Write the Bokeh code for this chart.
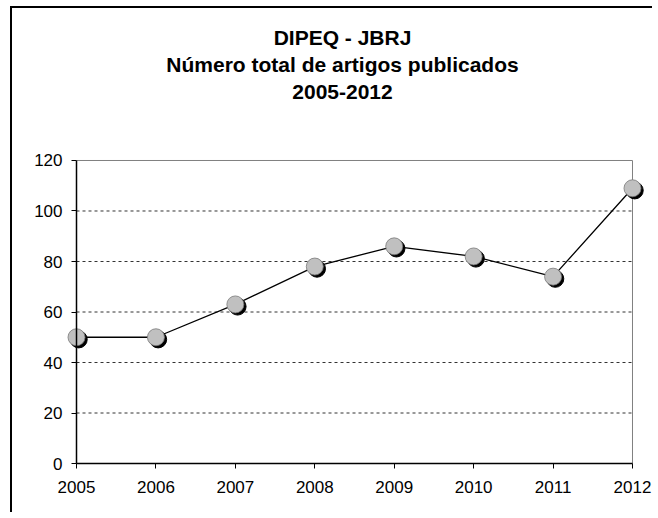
from bokeh.plotting import figure
from bokeh.models import ColumnDataSource, FixedTicker, Label
from bokeh.transform import dodge
from bokeh.embed import file_html
from bokeh.resources import INLINE

# ---- data ----
years = [2005, 2006, 2007, 2008, 2009, 2010, 2011, 2012]
articles = [50, 50, 63, 78, 86, 82, 74, 109]
y_ticks = [0, 20, 40, 60, 80, 100, 120]
grid_vals = [20, 40, 60, 80, 100]
title_lines = ["DIPEQ - JBRJ", "Número total de artigos publicados", "2005-2012"]

src = ColumnDataSource(data=dict(year=years, n=articles))

# frame fills the whole canvas; axes are placed at fixed data locations
p = figure(width=642, height=506, output_backend="svg", toolbar_location=None,
           x_range=(2004.1942, 2012.277), y_range=(-20.198, 180.198),
           min_border=0)
p.styles = {"margin-left": "10px", "margin-top": "6px",
            "border-left": "2px solid #000", "border-top": "2px solid #000"}

p.background_fill_color = "white"
p.border_fill_color = "white"
p.outline_line_color = None
p.xgrid.visible = False
p.ygrid.visible = False

FONT = "Liberation Sans"

# axes
p.xaxis.ticker = FixedTicker(ticks=years)
p.yaxis.ticker = FixedTicker(ticks=y_ticks)
p.xaxis.fixed_location = y_ticks[0]
p.yaxis.fixed_location = years[0]
p.xaxis.bounds = (years[0], years[-1])
p.yaxis.bounds = (y_ticks[0], y_ticks[-1])
for ax in (p.xaxis[0], p.yaxis[0]):
    ax.axis_line_color = "black"
    ax.axis_line_width = 1.5
    ax.major_tick_line_color = "black"
    ax.major_tick_out = 5
    ax.major_tick_in = 0
    ax.minor_tick_line_color = None
    ax.major_label_text_font = FONT
    ax.major_label_text_font_size = "17px"
    ax.major_label_text_color = "black"
p.xaxis.major_label_standoff = 12
p.yaxis.major_label_standoff = 9

# dashed horizontal grid lines
p.segment(x0=[years[0]] * len(grid_vals), y0=grid_vals,
          x1=[years[-1]] * len(grid_vals), y1=grid_vals,
          line_color="#333333", line_dash="3 3", line_width=1)
# plot-area outline (top and right, gray)
p.segment(x0=[years[0], years[-1]], y0=[y_ticks[-1], y_ticks[0]],
          x1=[years[-1], years[-1]], y1=[y_ticks[-1], y_ticks[-1]],
          line_color="#808080", line_width=1)

# line
p.line("year", "n", source=src, line_color="black", line_width=1.3)
# shadow + markers
p.scatter(dodge("year", 0.028, range=p.x_range), dodge("n", -0.85, range=p.y_range), source=src,
          size=17, fill_color="black", line_color="black")
p.scatter("year", "n", source=src, size=17, fill_color="#C0C0C0", line_color="#7a7a7a", line_width=0.8)

# title
ys = [168.8, 158.1, 147.0]
for t, yy in zip(title_lines, ys):
    p.add_layout(Label(x=2008.349, y=yy, text=t, text_align="center", text_baseline="alphabetic",
                       text_font=FONT, text_font_style="bold", text_font_size="21px",
                       text_color="black"))

open("out.html", "w").write(file_html(p, INLINE))
